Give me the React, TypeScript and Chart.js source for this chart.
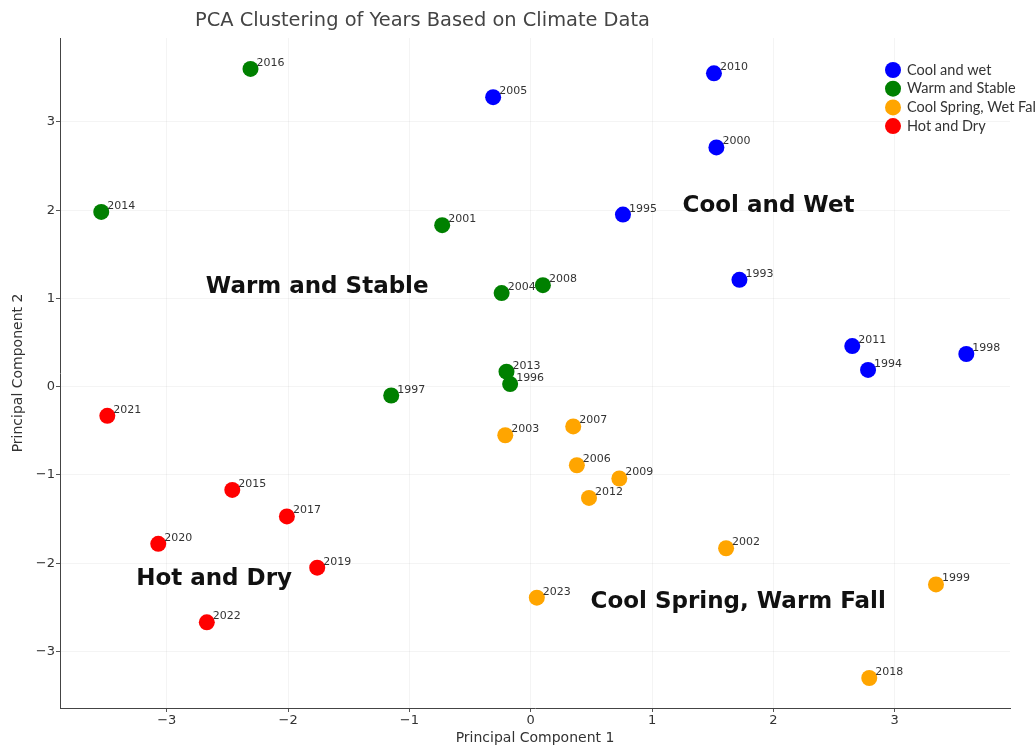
import React, { useEffect, useRef } from "react";
import { Chart, registerables } from "chart.js";

Chart.register(...registerables);

// ---- Data ----
const seriesNames = ["Cool and wet", "Warm and Stable", "Cool Spring, Wet Fall", "Hot and Dry"];
const seriesColors = ["#0000ff", "#008000", "#ffa500", "#ff0000"];

const coolWetYears = ["2010", "2005", "2000", "1995", "1993", "2011", "1994", "1998"];
const coolWetPC1 = [1.51, -0.31, 1.53, 0.76, 1.72, 2.65, 2.78, 3.59];
const coolWetPC2 = [3.55, 3.28, 2.71, 1.95, 1.21, 0.46, 0.19, 0.37];

const warmStableYears = ["2016", "2014", "2001", "2004", "2008", "2013", "1996", "1997"];
const warmStablePC1 = [-2.31, -3.54, -0.73, -0.24, 0.1, -0.2, -0.17, -1.15];
const warmStablePC2 = [3.6, 1.98, 1.83, 1.06, 1.15, 0.17, 0.03, -0.1];

const coolSpringYears = ["2003", "2007", "2006", "2009", "2012", "2002", "1999", "2023", "2018"];
const coolSpringPC1 = [-0.21, 0.35, 0.38, 0.73, 0.48, 1.61, 3.34, 0.05, 2.79];
const coolSpringPC2 = [-0.55, -0.45, -0.89, -1.04, -1.26, -1.83, -2.24, -2.39, -3.3];

const hotDryYears = ["2021", "2015", "2017", "2020", "2019", "2022"];
const hotDryPC1 = [-3.49, -2.46, -2.01, -3.07, -1.76, -2.67];
const hotDryPC2 = [-0.33, -1.17, -1.47, -1.78, -2.05, -2.67];

const regionLabels = ["Cool and Wet", "Warm and Stable", "Hot and Dry", "Cool Spring, Warm Fall"];
const regionPC1 = [1.96, -1.76, -2.61, 1.71];
const regionPC2 = [2.05, 1.13, -2.18, -2.44];

const titleText = "PCA Clustering of Years Based on Climate Data";
const xAxisTitle = "Principal Component 1";
const yAxisTitle = "Principal Component 2";

const allYears = [coolWetYears, warmStableYears, coolSpringYears, hotDryYears];
const allPC1 = [coolWetPC1, warmStablePC1, coolSpringPC1, hotDryPC1];
const allPC2 = [coolWetPC2, warmStablePC2, coolSpringPC2, hotDryPC2];

const fmt = (v: number) => (v < 0 ? "\u2212" + Math.abs(v) : String(v));

const overlayPlugin = {
  id: "overlay",
  afterDatasetsDraw(chart: any) {
    const { ctx, chartArea, scales } = chart;
    ctx.save();
    // year labels
    ctx.font = "11px 'DejaVu Sans'";
    ctx.fillStyle = "#333";
    ctx.textAlign = "left";
    ctx.textBaseline = "alphabetic";
    chart.data.datasets.forEach((ds: any, i: number) => {
      const meta = chart.getDatasetMeta(i);
      meta.data.forEach((pt: any, j: number) => {
        ctx.fillText(ds.years[j], pt.x + 6, pt.y - 3);
      });
    });
    // region annotations
    ctx.font = "bold 23px 'DejaVu Sans'";
    ctx.fillStyle = "#111";
    ctx.textAlign = "center";
    ctx.textBaseline = "middle";
    regionLabels.forEach((t, i) => {
      ctx.fillText(t, scales.x.getPixelForValue(regionPC1[i]), scales.y.getPixelForValue(regionPC2[i]));
    });
    // title
    ctx.font = "19.4px 'DejaVu Sans'";
    ctx.fillStyle = "#444";
    ctx.textAlign = "left";
    ctx.textBaseline = "middle";
    ctx.fillText(titleText, chartArea.left + 135, 21);
    // legend
    ctx.font = "14.5px Lato";
    ctx.textBaseline = "middle";
    chart.data.datasets.forEach((ds: any, i: number) => {
      const y = 70 + i * 18.7;
      ctx.beginPath();
      ctx.fillStyle = ds.backgroundColor;
      ctx.arc(893, y, 8, 0, Math.PI * 2);
      ctx.fill();
      ctx.fillStyle = "#333";
      ctx.fillText(ds.label, 907, y);
    });
    ctx.restore();
  },
};

export default function App() {
  const ref = useRef<HTMLCanvasElement | null>(null);
  useEffect(() => {
    if (!ref.current) return;
    const datasets = seriesNames.map((name, i) => ({
      label: name,
      years: allYears[i],
      data: allPC1[i].map((x, j) => ({ x, y: allPC2[i][j] })),
      backgroundColor: seriesColors[i],
      borderWidth: 0,
      pointRadius: 8,
      pointHoverRadius: 8,
    }));
    const chart = new Chart(ref.current, {
      type: "scatter",
      data: { datasets: datasets as any },
      options: {
        animation: false,
        responsive: false,
        maintainAspectRatio: false,
        layout: { padding: { top: 38, right: 25, left: 0, bottom: 0 } },
        plugins: { legend: { display: false }, title: { display: false }, tooltip: { enabled: false } },
        scales: {
          x: {
            type: "linear",
            min: -3.88,
            max: 3.95,
            afterFit: (s: any) => { s.height = 40; },
            ticks: {
              stepSize: 1,
              includeBounds: false,
              padding: 1,
              color: "#333",
              font: { family: "'DejaVu Sans'", size: 13 },
              callback: (v: any) => fmt(Number(v)),
            },
            grid: { color: "rgba(0,0,0,0.045)", tickColor: "#555", tickLength: 4 },
            border: { color: "#444", width: 1 },
            title: {
              display: true,
              text: xAxisTitle,
              color: "#333",
              font: { family: "'DejaVu Sans'", size: 14 },
              padding: { top: 0, bottom: 1 },
            },
          },
          y: {
            type: "linear",
            min: -3.64,
            max: 3.95,
            afterFit: (s: any) => { s.width = 60; },
            ticks: {
              stepSize: 1,
              includeBounds: false,
              padding: 1,
              color: "#333",
              font: { family: "'DejaVu Sans'", size: 13 },
              callback: (v: any) => fmt(Number(v)),
            },
            grid: { color: "rgba(0,0,0,0.045)", tickColor: "#555", tickLength: 4 },
            border: { color: "#444", width: 1 },
            title: {
              display: true,
              text: yAxisTitle,
              color: "#333",
              font: { family: "'DejaVu Sans'", size: 14 },
              padding: { top: 10, bottom: 0 },
            },
          },
        },
      },
      plugins: [overlayPlugin],
    });
    return () => chart.destroy();
  }, []);
  return (
    <div style={{ position: "fixed", left: 0, top: 0, width: 1035, height: 748, background: "#fff" }}>
      <canvas ref={ref} width={1035} height={748} style={{ width: 1035, height: 748 }} />
    </div>
  );
}
